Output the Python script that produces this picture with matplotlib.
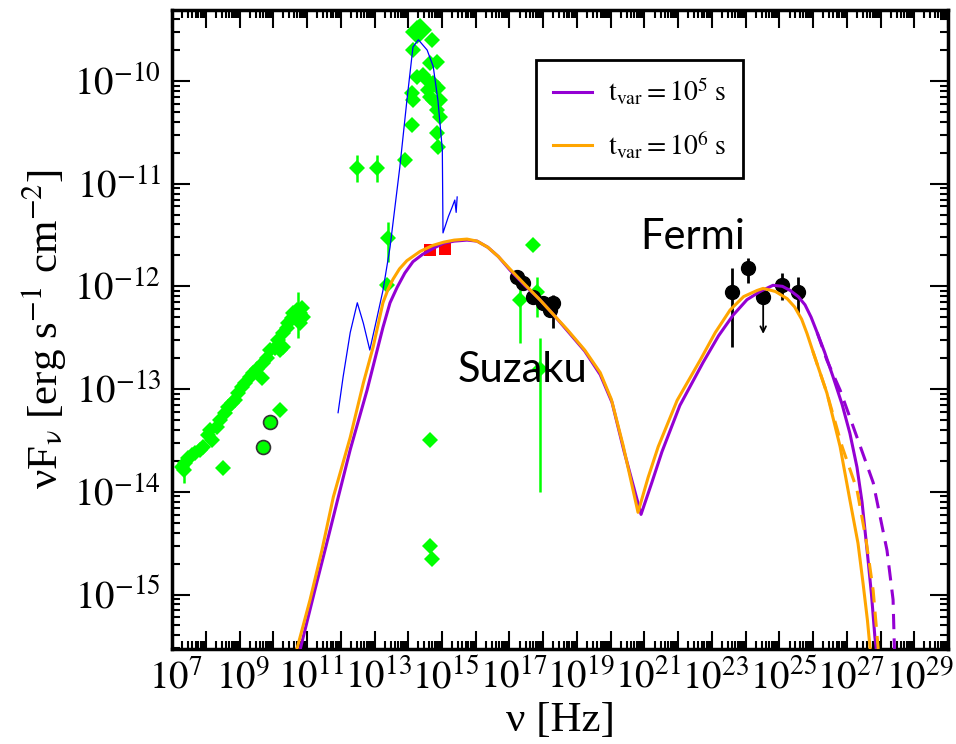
import numpy as np
import matplotlib.pyplot as plt
from matplotlib.ticker import FixedLocator, LogLocator, FuncFormatter, NullFormatter

plt.rcParams['font.family'] = ['Liberation Serif', 'DejaVu Serif']
plt.rcParams['mathtext.fontset'] = 'stix'

# all values are log10(nu / Hz) and log10(nuFnu / erg s^-1 cm^-2)

# radio band (green diamonds)
radio_lognu = [6.29, 6.39, 6.47, 6.60, 6.68, 6.83, 6.92, 7.07, 7.13, 7.18, 7.34, 7.42, 7.57,
               7.66, 7.78, 7.87, 7.96, 8.08, 8.16, 8.31, 8.40, 8.52, 8.67, 8.70, 8.81, 8.91,
               9.05, 9.20, 9.15, 9.29, 9.41, 9.44, 9.55, 9.59, 9.70, 9.80, 9.86,
               9.73, 9.88, 9.80, 9.29, 7.52, 9.20]
radio_logf = [-13.76, -13.72, -13.67, -13.64, -13.62, -13.59, -13.56, -13.45, -13.40, -13.50,
              -13.37, -13.30, -13.23, -13.17, -13.14, -13.11, -13.04, -12.98, -12.94, -12.88,
              -12.84, -12.80, -12.89, -12.75, -12.70, -12.62, -12.60, -12.62, -12.52, -12.45,
              -12.41, -12.36, -12.31, -12.26, -12.23, -12.26, -12.21, -12.33, -12.30, -12.36,
              -12.59, -13.77, -13.20]
radio_circ_lognu = [8.70, 8.91]
radio_circ_logf = [-13.56, -13.32]

# IR / optical / UV (green diamonds, no error bars)
opt_lognu = [12.38, 12.91, 13.12, 13.12, 13.14, 13.70, 13.14, 13.27, 13.44, 13.65, 13.85,
             13.59, 13.74, 13.88, 13.74, 13.95, 13.85, 13.95, 13.85, 13.88, 13.65, 13.56,
             13.65, 13.65, 13.70, 16.70]
opt_logf = [-11.99, -10.77, -10.43, -10.12, -9.70, -9.60, -10.19, -9.96, -9.94, -9.83, -9.82,
            -10.09, -10.02, -10.07, -10.19, -10.19, -10.28, -10.35, -10.51, -10.64, -10.16,
            -9.99, -13.50, -14.53, -14.65, -11.60]
big_lognu = [13.27, 13.35]
big_logf = [-9.52, -9.50]

# green points with error bars (log up / log down)
gerr_lognu = [6.35, 9.73, 11.49, 12.07, 12.40, 16.32, 16.82, 16.90]
gerr_logf = [-13.79, -12.28, -10.85, -10.85, -11.53, -12.13, -12.06, -12.80]
gerr_up = [0.07, 0.22, 0.13, 0.13, 0.16, 0.22, 0.15, 0.30]
gerr_dn = [0.12, 0.22, 0.13, 0.13, 0.23, 0.42, 0.24, 1.20]

# red squares
red_lognu = [13.65, 14.09]
red_logf = [-11.65, -11.64]

# Suzaku (black)
suz_lognu = [16.22, 16.40, 16.70, 17.00, 17.21, 17.29]
suz_logf = [-11.91, -11.97, -12.10, -12.16, -12.23, -12.16]
suz_up = [0.0, 0.0, 0.0, 0.0, 0.0, 0.08]
suz_dn = [0.0, 0.0, 0.0, 0.0, 0.0, 0.25]

# Fermi (black)
fermi_lognu = [22.60, 23.07, 24.09, 24.56]
fermi_logf = [-12.06, -11.82, -11.99, -12.06]
fermi_up = [0.24, 0.10, 0.12, 0.15]
fermi_dn = [0.53, 0.15, 0.14, 0.20]
ul_lognu = 23.52
ul_logf = -12.10
ul_end_logf = -12.49

# thin blue component
blue_lognu = [10.92, 11.07, 11.28, 11.49, 11.67, 11.86, 12.07, 12.25, 12.46, 12.75, 12.96,
              13.14, 13.30, 13.56, 13.74, 13.88, 14.01, 14.03, 14.19, 14.30, 14.38, 14.42, 14.45]
blue_logf = [-13.23, -12.88, -12.45, -12.16, -12.36, -12.62, -12.31, -12.04, -11.62, -10.84,
             -10.19, -9.67, -9.60, -9.70, -9.86, -10.19, -10.67, -11.48, -11.32, -11.23,
             -11.16, -11.28, -11.13]

# model t_var = 1e6 s (orange)
org_lognu = [9.70, 10.09, 10.44, 10.78, 11.28, 11.67, 11.96, 12.25, 12.40, 12.55, 12.74,
             12.96, 13.35, 13.74, 14.05, 14.36, 14.74, 15.04, 15.36, 15.67, 16.01, 16.45,
             16.90, 17.29, 17.71, 18.23, 18.69, 19.02, 19.37, 19.81, 20.11, 20.41, 20.97,
             21.65, 22.10, 22.54, 22.94, 23.34, 23.52, 23.88, 24.23, 24.45, 24.66, 24.82,
             24.99, 25.41, 25.80, 26.09, 26.33, 26.48, 26.61, 26.69]
org_logf = [-15.53, -15.05, -14.57, -14.05, -13.47, -12.94, -12.59, -12.16, -12.03, -11.93,
            -11.83, -11.75, -11.66, -11.60, -11.57, -11.55, -11.54, -11.56, -11.62, -11.71,
            -11.83, -11.98, -12.13, -12.27, -12.42, -12.62, -12.84, -13.10, -13.55, -14.20,
            -13.86, -13.56, -13.11, -12.72, -12.45, -12.23, -12.10, -12.04, -12.02, -12.05,
            -12.12, -12.20, -12.32, -12.46, -12.63, -13.04, -13.56, -14.08, -14.50, -14.89,
            -15.25, -15.53]
org_dash_lognu = [24.99, 25.41, 25.86, 26.30, 26.57, 26.78, 26.93]
org_dash_logf = [-12.63, -13.04, -13.56, -13.98, -14.47, -14.96, -15.53]

# model t_var = 1e5 s (purple)
pur_lognu = [9.80, 10.23, 10.57, 10.92, 11.28, 11.78, 12.25, 12.46, 12.67, 12.90, 13.14,
             13.42, 13.74, 14.05, 14.36, 14.74, 15.04, 15.36, 15.67, 16.01, 16.45, 16.90,
             17.29, 17.71, 18.23, 18.69, 19.04, 19.40, 19.90, 20.22, 20.52, 21.05, 21.74,
             22.20, 22.63, 23.04, 23.43, 23.81, 24.09, 24.32, 24.56, 24.76, 24.94, 25.12,
             25.34, 25.59, 25.86, 26.09, 26.30, 26.45, 26.60, 26.73, 26.83, 26.87]
pur_logf = [-15.53, -14.96, -14.52, -14.06, -13.59, -13.01, -12.40, -12.16, -12.01, -11.87,
            -11.76, -11.69, -11.63, -11.58, -11.56, -11.55, -11.56, -11.62, -11.71, -11.84,
            -11.99, -12.13, -12.27, -12.43, -12.63, -12.86, -13.13, -13.61, -14.22, -13.91,
            -13.61, -13.16, -12.74, -12.48, -12.28, -12.13, -12.05, -11.99, -12.00, -12.04,
            -12.10, -12.18, -12.30, -12.45, -12.64, -12.88, -13.15, -13.43, -13.76, -14.10,
            -14.57, -15.00, -15.41, -15.53]
pur_dash_lognu = [25.12, 25.41, 25.80, 26.40, 26.78, 27.19, 27.37, 27.41]
pur_dash_logf = [-12.45, -12.72, -13.01, -13.56, -13.91, -14.57, -15.05, -15.53]

x_label_exp = list(range(7, 30, 2))
y_label_exp = list(range(-15, -9))


def p(a):
    return 10.0 ** np.asarray(a, dtype=float)


def yerr(logf, up, dn):
    f = p(logf)
    return [f - p(np.asarray(logf) - np.asarray(dn)), p(np.asarray(logf) + np.asarray(up)) - f]


green = '#00ff00'
purple = '#9400d3'
orange = '#ffa500'

fig = plt.figure(figsize=(9.56, 7.44), dpi=100)
ax = fig.add_axes([0.180, 0.1277, 0.8117, 0.8589])

# data points
ax.plot(p(radio_lognu), p(radio_logf), 'D', color=green, ms=8, mew=0, zorder=3)
ax.plot(p(radio_circ_lognu), p(radio_circ_logf), 'o', color=green, ms=10, mec='#333333',
        mew=1.2, zorder=3)
ax.plot(p(opt_lognu), p(opt_logf), 'D', color=green, ms=8, mew=0, zorder=3)
ax.plot(p(big_lognu), p(big_logf), 'D', color=green, ms=12, mew=0, zorder=3)
ax.errorbar(p(gerr_lognu), p(gerr_logf), yerr=yerr(gerr_logf, gerr_up, gerr_dn), fmt='D',
            color=green, ms=8, mew=0, elinewidth=1.8, capsize=6, capthick=1.8, zorder=3)
ax.errorbar(p(suz_lognu), p(suz_logf), yerr=yerr(suz_logf, suz_up, suz_dn), fmt='o',
            color='black', ms=10, elinewidth=2, capsize=0, zorder=3)
ax.errorbar(p(fermi_lognu), p(fermi_logf), yerr=yerr(fermi_logf, fermi_up, fermi_dn), fmt='o',
            color='black', ms=10, elinewidth=2, capsize=0, zorder=3)
ax.plot(p([ul_lognu]), p([ul_logf]), 'o', color='black', ms=10, zorder=3)
ax.annotate('', xy=(p(ul_lognu), p(ul_end_logf)), xytext=(p(ul_lognu), p(ul_logf)),
            arrowprops=dict(arrowstyle='->', color='black', lw=1.3), zorder=3)
ax.plot(p(red_lognu), p(red_logf), 's', color='red', ms=9, mew=0, zorder=3)

# models
ax.plot(p(blue_lognu), p(blue_logf), '-', color='blue', lw=0.9, zorder=4)
ax.plot(p(pur_lognu), p(pur_logf), '-', color=purple, lw=2.2, zorder=5,
        label=r'$\mathrm{t}_{\mathrm{var}} = 10^{5}\ \mathrm{s}$')
ax.plot(p(org_lognu), p(org_logf), '-', color=orange, lw=2.2, zorder=6,
        label=r'$\mathrm{t}_{\mathrm{var}} = 10^{6}\ \mathrm{s}$')
ax.plot(p(pur_dash_lognu), p(pur_dash_logf), '--', color=purple, lw=2.2, dashes=(5, 3), zorder=5)
ax.plot(p(org_dash_lognu), p(org_dash_logf), '--', color=orange, lw=2.2, dashes=(5, 3), zorder=6)

ax.set_xscale('log')
ax.set_yscale('log')
ax.set_xlim(1e6, 1e29)
ax.set_ylim(2.95e-16, 4.9e-10)

ax.xaxis.set_major_locator(FixedLocator(10.0 ** np.arange(6, 30)))
ax.xaxis.set_major_formatter(NullFormatter())
ax.xaxis.set_minor_locator(LogLocator(base=10, subs=np.arange(2, 10), numticks=200))
ax.xaxis.set_minor_formatter(NullFormatter())
ax.yaxis.set_major_locator(FixedLocator(p(y_label_exp)))
ax.yaxis.set_major_formatter(FuncFormatter(lambda v, pos: f'$10^{{{int(round(np.log10(v)))}}}$'))
ax.yaxis.set_minor_locator(LogLocator(base=10, subs=np.arange(2, 10), numticks=200))
ax.yaxis.set_minor_formatter(NullFormatter())

ax.tick_params(which='both', direction='in', top=True, right=True, width=1.5)
ax.tick_params(which='major', length=13, labelsize=28, pad=8)
ax.tick_params(which='minor', length=6)
for s in ax.spines.values():
    s.set_linewidth(2.5)

# x labels sit a little left of their ticks, as in the original figure
for e in x_label_exp:
    dx = -20.5 if e == x_label_exp[-1] else -21.6
    ax.annotate(f'$10^{{{e}}}$', xy=(10.0 ** e, 0), xycoords=ax.get_xaxis_transform(),
                xytext=(dx, -8), textcoords='offset points', ha='center', va='top',
                fontsize=28, annotation_clip=False)

ax.set_xlabel('ν [Hz]', fontsize=31)
ax.xaxis.set_label_coords(0.5, -0.082)
ax.set_ylabel(r'νF$_{\mathrm{\nu}}$ [erg s$^{-1}$ cm$^{-2}$]', fontsize=31, labelpad=4)

ax.text(0.671, 0.645, 'Fermi', transform=ax.transAxes, fontsize=30, family='Lato',
        ha='center', va='center', zorder=10)
ax.text(0.452, 0.437, 'Suzaku', transform=ax.transAxes, fontsize=30, family='Lato',
        ha='center', va='center', zorder=10)

leg = ax.legend(loc='upper left', bbox_to_anchor=(0.469, 0.922), fontsize=20, frameon=True,
                fancybox=False, edgecolor='black', framealpha=1, handlelength=1.4,
                handletextpad=0.6, labelspacing=0.8, borderpad=0.6, borderaxespad=0)
leg.get_frame().set_linewidth(2)
leg.set_zorder(20)

fig.savefig('out.png', dpi=100)
